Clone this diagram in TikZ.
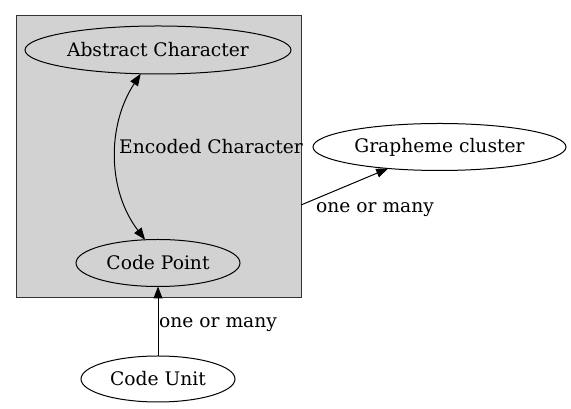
\documentclass[tikz,border=0pt]{standalone}
\usepackage{fontspec}
\setmainfont{DejaVu Serif}
\usetikzlibrary{shapes.geometric,arrows.meta}
\begin{document}
\begin{tikzpicture}[x=1pt,y=1pt,
  every node/.style={font=\fontsize{18.67}{22}\selectfont},
  ell/.style={draw=black,ellipse,line width=1pt,inner sep=0pt,outer sep=0pt},
  lbl/.style={anchor=west,inner sep=0pt},
  tip/.style={Triangle[length=12pt,width=9pt]},
  edge/.style={line width=1pt,draw=black,-{Triangle[length=12pt,width=9pt]}},
]
\useasboundingbox (0,0) rectangle (571,409);
\node[draw=black!80,fill=lightgray!70,line width=1pt,minimum width=285pt,minimum height=282pt,inner sep=0pt,outer sep=0pt] (cl) at (158.5,252) {};
\node[ell,fill=lightgray!70,minimum width=266pt,minimum height=48pt] (ac) at (158,359) {Abstract Character};
\node[ell,fill=lightgray!70,minimum width=164pt,minimum height=47pt] (cp) at (158,146) {Code Point};
\node[ell,fill=white,minimum width=253pt,minimum height=47pt] (gc) at (439.5,262) {Grapheme cluster};
\node[ell,fill=white,minimum width=154pt,minimum height=46pt] (cu) at (158,30) {Code Unit};
\coordinate (gs) at (301,204);
\draw[line width=1pt,{Triangle[length=12pt,width=9pt]}-{Triangle[length=12pt,width=9pt]}] (ac.234) .. controls (107,284) and (107,219) .. (cp.119);
\node[lbl] (l1) at (119,262) {Encoded Character};
\draw[edge] (gs) -- (gc);
\node[lbl] (l2) at (316,199.5) {one or many};
\draw[edge] (cu) -- (cp);
\node[lbl] (l3) at (159,84.5) {one or many};
\end{tikzpicture}
\end{document}
